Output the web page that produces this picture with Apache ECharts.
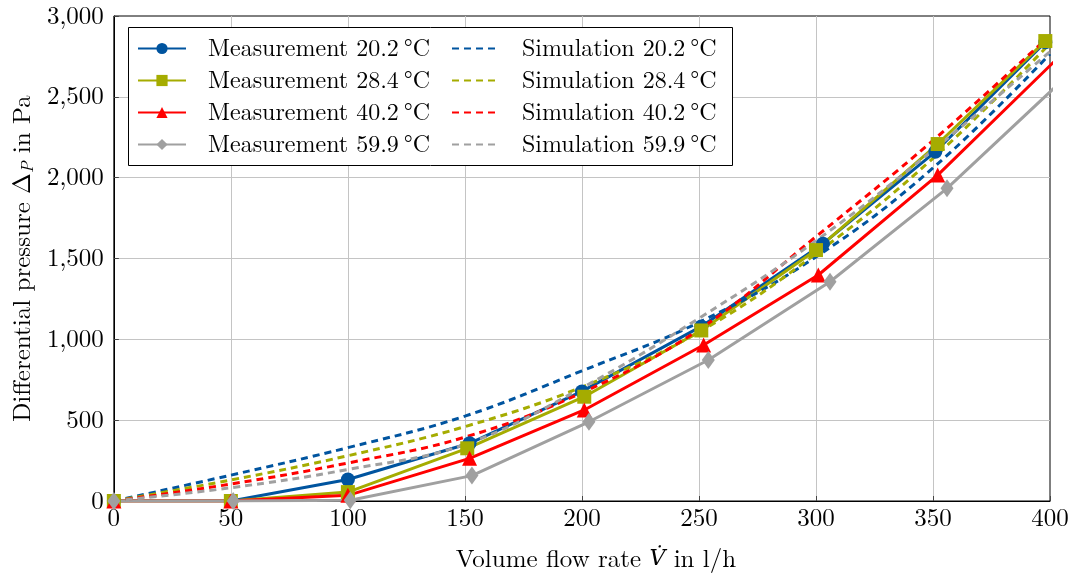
<!DOCTYPE html>
<html>
<head>
<meta charset="utf-8">
<script src="https://cdn.jsdelivr.net/npm/echarts@6/dist/echarts.min.js"></script>
<style>html,body{margin:0;padding:0;background:#fff}#c{width:1073px;height:580px}</style>
</head>
<body>
<div id="c"></div>
<script>
// ---- data ----
const xTicks = [0, 50, 100, 150, 200, 250, 300, 350, 400];
const yTicks = [0, 500, 1000, 1500, 2000, 2500, 3000];

const flowM20 = [0, 50, 100, 152, 200, 251, 303, 351, 398];
const presM20 = [0, 0, 133, 357, 678, 1080, 1592, 2160, 2838];
const flowM28 = [0, 50, 100, 151, 201, 251, 300, 352, 398];
const presM28 = [0, 0, 55, 326, 645, 1055, 1552, 2208, 2845];
const flowM40 = [0, 50, 100, 152, 201, 252, 301, 352, 403];
const presM40 = [0, 0, 35, 264, 563, 965, 1398, 2016, 2735];
const flowM59 = [0, 51, 101, 153, 203, 254, 306, 356, 406];
const presM59 = [0, 0, 5, 157, 490, 872, 1356, 1934, 2612];

const flowSim = [0, 50, 100, 150, 200, 250, 300, 350, 400];
const presS20 = [0, 160, 330, 525, 805, 1105, 1510, 2060, 2765];
const presS28 = [0, 130, 280, 460, 705, 1045, 1530, 2120, 2830];
const presS40 = [0, 105, 235, 395, 670, 1060, 1635, 2230, 2880];
const presS59 = [0, 82, 195, 350, 700, 1130, 1610, 2170, 2780];

const namesM = ['Measurement 20.2\u2009°C', 'Measurement 28.4\u2009°C', 'Measurement 40.2\u2009°C', 'Measurement 59.9\u2009°C'];
const namesS = ['Simulation 20.2\u2009°C', 'Simulation 28.4\u2009°C', 'Simulation 40.2\u2009°C', 'Simulation 59.9\u2009°C'];
const colors = ['#00549F', '#A5AC00', '#FF0000', '#A0A0A0'];
const symbols = ['circle', 'rect', 'triangle', 'diamond'];

// ---- build ----
const FONT = '"Latin Modern Roman", "Liberation Serif", serif';
const zip = (xs, ys) => xs.map((x, i) => [x, ys[i]]);
const measX = [flowM20, flowM28, flowM40, flowM59];
const measY = [presM20, presM28, presM40, presM59];
const simY = [presS20, presS28, presS40, presS59];

const series = [];
for (let i = 0; i < 4; i++) {
  series.push({
    name: namesM[i], type: 'line', data: zip(measX[i], measY[i]),
    symbol: symbols[i], symbolSize: symbols[i] === 'diamond' ? [13, 18] : (symbols[i] === 'triangle' ? 15 : 14),
    showAllSymbol: true,
    lineStyle: { color: colors[i], width: 3 },
    itemStyle: { color: colors[i] },
    clip: true
  });
}
for (let i = 0; i < 4; i++) {
  series.push({
    name: namesS[i], type: 'line', data: zip(flowSim, simY[i]),
    symbol: 'none', smooth: 0.4,
    lineStyle: { color: colors[i], width: 3, type: [7, 5] },
    itemStyle: { color: colors[i] },
    clip: true
  });
}

const legendText = { fontFamily: FONT, fontSize: 24, color: '#000', lineHeight: 25, padding: [0, 0, 0, 17] };

const option = {
  animation: false,
  backgroundColor: '#fff',
  grid: { left: 110, right: 23, top: 16, bottom: 79, show: true, borderColor: '#000', borderWidth: 1, backgroundColor: 'transparent' },
  xAxis: {
    type: 'value', min: xTicks[0], max: xTicks[xTicks.length - 1], interval: 50,
    name: 'Volume flow rate {v|V\u0307} in l/h', nameLocation: 'middle', nameGap: 46,
    nameTextStyle: { fontFamily: FONT, fontSize: 25, color: '#000', padding: [0, 0, 0, 28],
      rich: { v: { fontFamily: '"DejaVu Serif", serif', fontSize: 22, fontStyle: 'italic', color: '#000' } } },
    axisLine: { show: true, lineStyle: { color: '#000', width: 1 } },
    axisTick: { show: true, inside: true, length: 5, lineStyle: { color: '#444' } },
    axisLabel: { fontFamily: FONT, fontSize: 25, color: '#000', margin: 5 },
    splitLine: { show: true, showMinLine: false, showMaxLine: false, lineStyle: { color: '#c4c4c4', width: 1 } }
  },
  yAxis: {
    type: 'value', min: yTicks[0], max: yTicks[yTicks.length - 1], interval: 500,
    name: 'Differential pressure \u0394{s|P} in Pa', nameLocation: 'middle', nameGap: 70,
    nameTextStyle: { fontFamily: FONT, fontSize: 25, color: '#000', lineHeight: 28,
      rich: { s: { fontFamily: FONT, fontSize: 17, fontStyle: 'italic', color: '#000', lineHeight: 16, verticalAlign: 'bottom' } } },
    axisLine: { show: true, lineStyle: { color: '#000', width: 1 } },
    axisTick: { show: true, inside: true, length: 5, lineStyle: { color: '#444' } },
    axisLabel: { fontFamily: FONT, fontSize: 25, color: '#000', margin: 10,
      formatter: v => v.toLocaleString('en-US') },
    splitLine: { show: true, showMinLine: false, showMaxLine: false, lineStyle: { color: '#c4c4c4', width: 1 } }
  },
  graphic: [{
    type: 'rect', left: 128, top: 27, z: 3,
    shape: { width: 604, height: 138 },
    style: { fill: '#fff', stroke: '#000', lineWidth: 1 }
  }],
  legend: [
    { data: namesM, orient: 'vertical', left: 132, top: 31, itemWidth: 48, itemHeight: 14, itemGap: 7,
      textStyle: legendText, z: 5 },
    { data: namesS, orient: 'vertical', left: 446, top: 31, itemWidth: 48, itemHeight: 14, itemGap: 7,
      textStyle: legendText, itemStyle: { opacity: 0 }, z: 5 }
  ],
  series: series
};

const chart = echarts.init(document.getElementById('c'), null, { renderer: 'canvas' });
chart.setOption(option);
</script>
</body>
</html>
